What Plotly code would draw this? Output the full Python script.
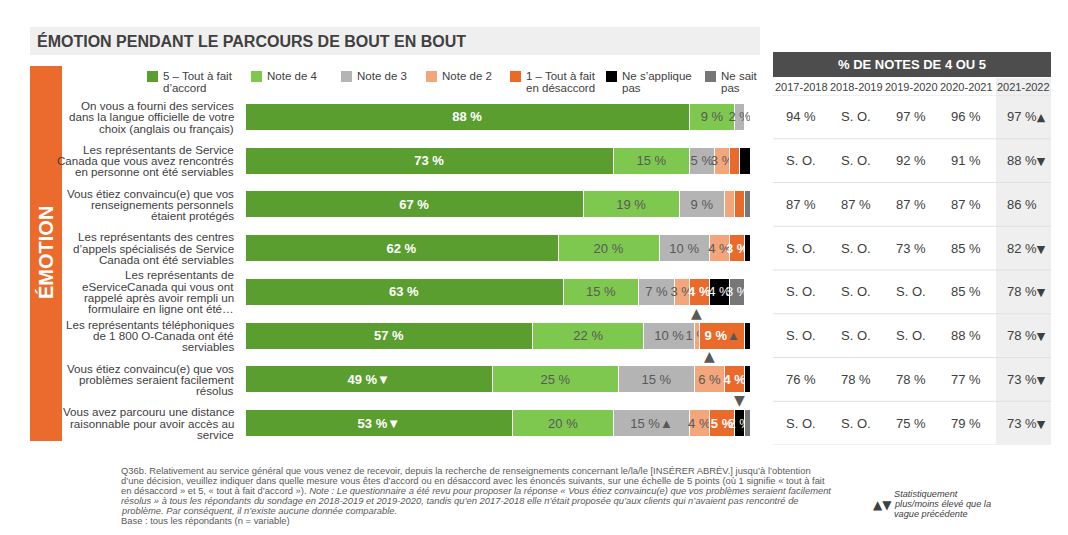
import plotly.graph_objects as go

W, H = 1068, 535
OFF = 8  # page body margin in the browser

# ---------------- data ----------------
categories = [
    ["On vous a fourni des services", "dans la langue officielle de votre", "choix (anglais ou français)"],
    ["Les représentants de Service", "Canada que vous avez rencontrés", "en personne ont été serviables"],
    ["Vous étiez convaincu(e) que vos", "renseignements personnels", "étaient protégés"],
    ["Les représentants des centres", "d’appels spécialisés de Service", "Canada ont été serviables"],
    ["Les représentants de", "eServiceCanada qui vous ont", "rappelé après avoir rempli un", "formulaire en ligne ont été…"],
    ["Les représentants téléphoniques", "de 1 800 O-Canada ont été", "serviables"],
    ["Vous étiez convaincu(e) que vos", "problèmes seraient facilement", "résolus"],
    ["Vous avez parcouru une distance", "raisonnable pour avoir accès au", "service"],
]

series_names = ["5 – Tout à fait<br>d’accord", "Note de 4", "Note de 3", "Note de 2",
                "1 – Tout à fait<br>en désaccord", "Ne s’applique<br>pas", "Ne sait<br>pas"]
note5 = [88, 73, 67, 62, 63, 57, 49, 53]
note4 = [9, 15, 19, 20, 15, 22, 25, 20]
note3 = [2, 5, 9, 10, 7, 10, 15, 15]
note2 = [0, 3, 2, 4, 3, 1, 6, 4]
note1 = [0, 2, 2, 3, 4, 9, 4, 5]
na_vals = [0, 2, 0, 1, 4, 1, 1, 2]
dk_vals = [0, 1, 1, 0, 3, 1, 1, 1]

# which segments carry a value label
show5 = [1, 1, 1, 1, 1, 1, 1, 1]
show4 = [1, 1, 1, 1, 1, 1, 1, 1]
show3 = [1, 1, 1, 1, 1, 1, 1, 1]
show2 = [0, 1, 0, 1, 1, 1, 1, 1]
show1 = [0, 0, 0, 1, 1, 1, 1, 1]
showna = [0, 0, 0, 0, 1, 0, 0, 1]
showdk = [0, 0, 0, 0, 1, 0, 0, 0]

# significance markers inside labels (series index, row) and above bars
sig_inline = {(0, 6): "▼", (0, 7): "▼", (2, 7): "▲", (4, 5): "▲"}
sig_above = [(3, 5, "▲"), (3, 6, "▲"), (5, 7, "▼")]

years = ["2017-2018", "2018-2019", "2019-2020", "2020-2021", "2021-2022"]
y2017 = [94, None, 87, None, None, None, 76, None]
y2018 = [None, None, 87, None, None, None, 78, None]
y2019 = [97, 92, 87, 73, None, None, 78, 75]
y2020 = [96, 91, 87, 85, 85, 88, 77, 79]
y2021 = [97, 88, 86, 82, 78, 78, 73, 73]
trend2021 = ["▲", "▼", "", "▼", "▼", "▼", "▼", "▼"]

# ---------------- style ----------------
FONT = "Liberation Sans, Arial, sans-serif"
TRI_FONT = "DejaVu Sans, Liberation Sans, sans-serif"
TXT = "#404040"
colors = ["#5B9E30", "#7EC850", "#B4B4B4", "#F3A57B", "#E96A2A", "#000000", "#777777"]
text_colors = ["white", "#595959", "#595959", "#595959", "white", "white", "white"]
bold = [True, False, False, False, True, False, False]
ORANGE_BAND = "#EA6B2B"


def X(px):
    return (px - OFF) / W


def Y(py):
    return 1 - (py - OFF) / H


all_series = [note5, note4, note3, note2, note1, na_vals, dk_vals]
all_show = [show5, show4, show3, show2, show1, showna, showdk]
rows = list(range(len(categories)))

fig = go.Figure()
for si, (vals, shows) in enumerate(zip(all_series, all_show)):
    texts = []
    for r, (v, s) in enumerate(zip(vals, shows)):
        if not s:
            texts.append("")
            continue
        t = f"{v} %"
        if bold[si]:
            t = f"<b>{t}</b>"
        mark = sig_inline.get((si, r))
        if mark:
            if si == 4:
                t += f"<span style='color:#595959'>{mark}</span>"
            else:
                t += mark
        texts.append(t)
    fig.add_trace(go.Bar(
        y=rows, x=vals, orientation="h", name=series_names[si],
        marker=dict(color=colors[si], line=dict(color="white", width=1)),
        text=texts, textposition="inside", insidetextanchor="middle",
        constraintext="none", textangle=0,
        textfont=dict(family=FONT, size=13, color=text_colors[si]),
        width=0.62, showlegend=False, hoverinfo="skip",
    ))

fig.update_layout(
    barmode="stack", width=W, height=H,
    margin=dict(l=0, r=0, t=0, b=0),
    paper_bgcolor="white", plot_bgcolor="white",
    font=dict(family=FONT, color=TXT),
    xaxis=dict(domain=[X(245), X(750)], range=[0, 100], visible=False, fixedrange=True),
    yaxis=dict(domain=[Y(445), Y(95)], range=[7.5, -0.5], visible=False, fixedrange=True),
)

shapes = []
ann = []

# title box
shapes.append(dict(type="rect", xref="paper", yref="paper", x0=X(30), x1=X(760), y0=Y(55), y1=Y(27),
                   fillcolor="#EFEFEF", line=dict(width=0), layer="below"))
ann.append(dict(xref="paper", yref="paper", x=X(35), y=Y(41), xanchor="left", yanchor="middle",
                text="<b>ÉMOTION PENDANT LE PARCOURS DE BOUT EN BOUT</b>", showarrow=False,
                font=dict(family=FONT, size=16, color=TXT)))

# orange side band
shapes.append(dict(type="rect", xref="paper", yref="paper", x0=X(30), x1=X(62), y0=Y(441), y1=Y(66),
                   fillcolor=ORANGE_BAND, line=dict(width=0), layer="below"))
ann.append(dict(xref="paper", yref="paper", x=X(46), y=Y(253), xanchor="center", yanchor="middle",
                text="<b>ÉMOTION</b>", textangle=-90, showarrow=False,
                font=dict(family=FONT, size=20, color="white")))

# legend
leg_sq = [147, 251, 341, 426, 510, 606, 705]
for si, name in enumerate(series_names):
    shapes.append(dict(type="rect", xref="paper", yref="paper", x0=X(leg_sq[si]), x1=X(leg_sq[si] + 11),
                       y0=Y(82), y1=Y(71), fillcolor=colors[si], line=dict(width=0)))
    for li, line in enumerate(name.split("<br>")):
        ann.append(dict(xref="paper", yref="paper", x=X(leg_sq[si] + 14), y=Y(76 + 11.5 * li),
                        xanchor="left", yanchor="middle", text=line, showarrow=False,
                        font=dict(family=FONT, size=11.5, color=TXT)))

# category labels
for r, lines in enumerate(categories):
    n = len(lines)
    for li, line in enumerate(lines):
        ann.append(dict(xref="paper", yref="y", x=X(236), y=r, xanchor="right", yanchor="middle",
                        yshift=((n - 1) / 2 - li) * 11.3, text=line, showarrow=False,
                        font=dict(family=FONT, size=11.6, color=TXT)))

# significance markers above bars (positioned from the stacked data)
for si, r, mark in sig_above:
    start = sum(all_series[k][r] for k in range(si))
    mid = start + all_series[si][r] / 2
    ann.append(dict(xref="x", yref="y", x=mid, y=r - 0.3, xanchor="center", yanchor="bottom",
                    text=mark, showarrow=False, font=dict(family=TRI_FONT, size=14, color="#595959")))

# table
shapes.append(dict(type="rect", xref="paper", yref="paper", x0=X(773), x1=X(1051), y0=Y(77), y1=Y(52),
                   fillcolor="#4D4D4D", line=dict(width=0)))
ann.append(dict(xref="paper", yref="paper", x=X(912), y=Y(65), xanchor="center", yanchor="middle",
                text="<b>% DE NOTES DE 4 OU 5</b>", showarrow=False,
                font=dict(family=FONT, size=13, color="white")))
shapes.append(dict(type="rect", xref="paper", yref="paper", x0=X(996), x1=X(1051), y0=Y(444), y1=Y(78),
                   fillcolor="#EFEFEF", line=dict(width=0), layer="below"))
col_x = [801, 856, 911, 966, 1022]
for ci, yr in enumerate(years):
    ann.append(dict(xref="paper", yref="paper", x=X(col_x[ci] + (1 if ci == 4 else 0)), y=Y(87),
                    xanchor="center", yanchor="middle", text=yr, showarrow=False,
                    font=dict(family=FONT, size=11, color=TXT)))
for r in rows:
    shapes.append(dict(type="line", xref="paper", yref="y", x0=X(773), x1=X(1051), y0=r - 0.5, y1=r - 0.5,
                       line=dict(color="#E0E0E0", width=1)))
shapes.append(dict(type="line", xref="paper", yref="y", x0=X(773), x1=X(1051), y0=7.5, y1=7.5,
                   line=dict(color="#E0E0E0", width=1)))
table_cols = [y2017, y2018, y2019, y2020, y2021]
for ci, col in enumerate(table_cols):
    for r, v in enumerate(col):
        t = "S. O." if v is None else f"{v} %"
        if ci == 4 and trend2021[r]:
            t += f"<span style='font-family:DejaVu Sans;font-size:11px'>{trend2021[r]}</span>"
        ann.append(dict(xref="paper", yref="y", x=X(col_x[ci] + (4 if ci == 4 and trend2021[r] else 0)), y=r,
                        xanchor="center", yanchor="middle", text=t, showarrow=False,
                        font=dict(family=FONT, size=13, color=TXT)))

# footnote
foot = [
    "Q36b. Relativement au service général que vous venez de recevoir, depuis la recherche de renseignements concernant le/la/le [INSÉRER ABRÉV.] jusqu’à l’obtention",
    "d’une décision, veuillez indiquer dans quelle mesure vous êtes d’accord ou en désaccord avec les énoncés suivants, sur une échelle de 5 points (où 1 signifie « tout à fait",
    "en désaccord » et 5, « tout à fait d’accord »). <i>Note : Le questionnaire a été revu pour proposer la réponse « Vous étiez convaincu(e) que vos problèmes seraient facilement</i>",
    "<i>résolus » à tous les répondants du sondage en 2018-2019 et 2019-2020, tandis qu’en 2017-2018 elle n’était proposée qu’aux clients qui n’avaient pas rencontré de</i>",
    "<i>problème. Par conséquent, il n’existe aucune donnée comparable.</i>",
    "Base : tous les répondants (n = variable)",
]
for li, line in enumerate(foot):
    ann.append(dict(xref="paper", yref="paper", x=X(119), y=Y(470 + 10 * li), xanchor="left", yanchor="middle",
                    text=line, showarrow=False, font=dict(family=FONT, size=9.4, color="#595959")))

ann.append(dict(xref="paper", yref="paper", x=X(871), y=Y(505), xanchor="left", yanchor="middle",
                text="▲▼", showarrow=False, font=dict(family=TRI_FONT, size=12, color=TXT)))
for li, line in enumerate(["Statistiquement", "plus/moins élevé que la", "vague précédente"]):
    ann.append(dict(xref="paper", yref="paper", x=X(892), y=Y(494 + 10 * li), xanchor="left", yanchor="middle",
                    text=f"<i>{line}</i>", showarrow=False, font=dict(family=FONT, size=9.2, color="#404040")))

fig.update_layout(shapes=shapes, annotations=ann)
fig.write_html("out.html")
